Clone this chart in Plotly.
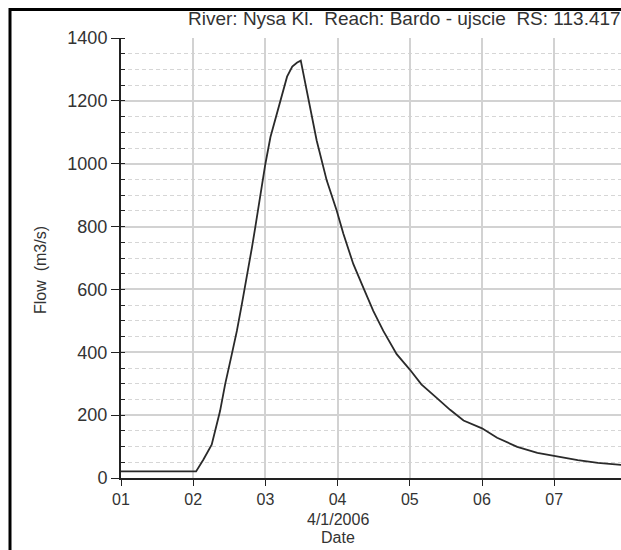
import numpy as np
import pandas as pd
import plotly.graph_objects as go

# ---- data ----
start_date = "2006-04-01"
day_of_month = [1.0, 2.04, 2.14, 2.256, 2.372, 2.442, 2.535, 2.605, 2.674, 2.744,
                2.814, 2.86, 2.93, 3.0, 3.07, 3.163, 3.233, 3.30, 3.372, 3.44,
                3.49, 3.618, 3.71, 3.849, 3.987, 4.08, 4.217, 4.356, 4.494, 4.633,
                4.818, 5.0, 5.16, 5.372, 5.558, 5.744, 6.0, 6.209, 6.488, 6.767,
                7.0, 7.326, 7.605, 7.95]
flow_m3s = [21, 21, 58, 106, 213, 298, 394, 468, 553, 638,
            734, 798, 904, 1000, 1085, 1165, 1218, 1277, 1309, 1322,
            1328, 1181, 1074, 947, 851, 777, 681, 606, 532, 468,
            394, 345, 298, 255, 217, 183, 158, 128, 99, 80,
            70, 57, 48, 41]
title_text = "River: Nysa Kl.\u00a0 Reach: Bardo - ujscie\u00a0 RS: 113.417"
y_title = "Flow\u00a0 (m3/s)"
x_title = "Date"
date_label = "4/1/2006"
y_tick_vals = [0, 200, 400, 600, 800, 1000, 1200, 1400]

t0 = pd.Timestamp(start_date)
times = t0 + pd.to_timedelta(np.array(day_of_month) - 1.0, unit="D")

FONT = "Liberation Sans, Arial, sans-serif"
TXT = "#333333"

fig = go.Figure()
fig.add_trace(go.Scatter(x=times, y=flow_m3s, mode="lines",
                         line=dict(color="#2a2a2a", width=1.8),
                         showlegend=False, hoverinfo="skip"))

fig.update_layout(
    width=621, height=550, autosize=False,
    margin=dict(l=121, r=0, t=38, b=72),
    paper_bgcolor="white", plot_bgcolor="white",
    font=dict(family=FONT, size=16, color=TXT),
    showlegend=False,
)

fig.update_xaxes(
    type="date",
    range=[t0, t0 + pd.Timedelta(days=6.925)],
    tickformat="%d", dtick=86400000, tick0=t0,
    showgrid=True, gridcolor="#d2d2d2", gridwidth=1.5,
    showline=True, linecolor="#222222", linewidth=2,
    ticks="outside", ticklen=6, tickcolor="#222222", tickwidth=1,
    tickfont=dict(size=16, color=TXT),
    zeroline=False,
)
fig.update_yaxes(
    range=[0, 1400],
    tickvals=y_tick_vals,
    showgrid=True, gridcolor="#d2d2d2", gridwidth=1.5,
    showline=True, linecolor="#222222", linewidth=2,
    ticks="outside", ticklen=8, tickcolor="#222222", tickwidth=1,
    tickfont=dict(size=18, color=TXT),
    zeroline=False,
    minor=dict(dtick=50, tick0=0, showgrid=True, gridcolor="#d6d6d6",
               griddash="4px,3px", gridwidth=1,
               ticks="inside", ticklen=4, tickcolor="#222222"),
)

fig.add_annotation(text=title_text, xref="paper", yref="paper",
                   x=(186 - 121) / 500, y=(478 - 19) / 440,
                   xanchor="left", yanchor="middle", showarrow=False,
                   font=dict(size=19, color=TXT))
fig.add_annotation(text=y_title, xref="paper", yref="paper",
                   x=(40 - 121) / 500, y=(478 - 270) / 440, textangle=-90,
                   xanchor="center", yanchor="middle", showarrow=False,
                   font=dict(size=16, color=TXT))
fig.add_annotation(text=date_label, xref="paper", yref="paper",
                   x=(338 - 121) / 500, y=(478 - 519) / 440,
                   xanchor="center", yanchor="middle", showarrow=False,
                   font=dict(size=16, color=TXT))
fig.add_annotation(text=x_title, xref="paper", yref="paper",
                   x=(338 - 121) / 500, y=(478 - 537) / 440,
                   xanchor="center", yanchor="middle", showarrow=False,
                   font=dict(size=16, color=TXT))

# outer black frame of the original window
fig.add_shape(type="rect", xref="paper", yref="paper",
              x0=(10 - 121) / 500, x1=1.2, y0=-0.3, y1=(478 - 9.5) / 440,
              line=dict(color="black", width=3), layer="above")

fig.write_html("out.html",
               config={"displayModeBar": False},
               post_script="document.body.style.margin='0';"
                           "document.body.style.overflow='hidden';")
